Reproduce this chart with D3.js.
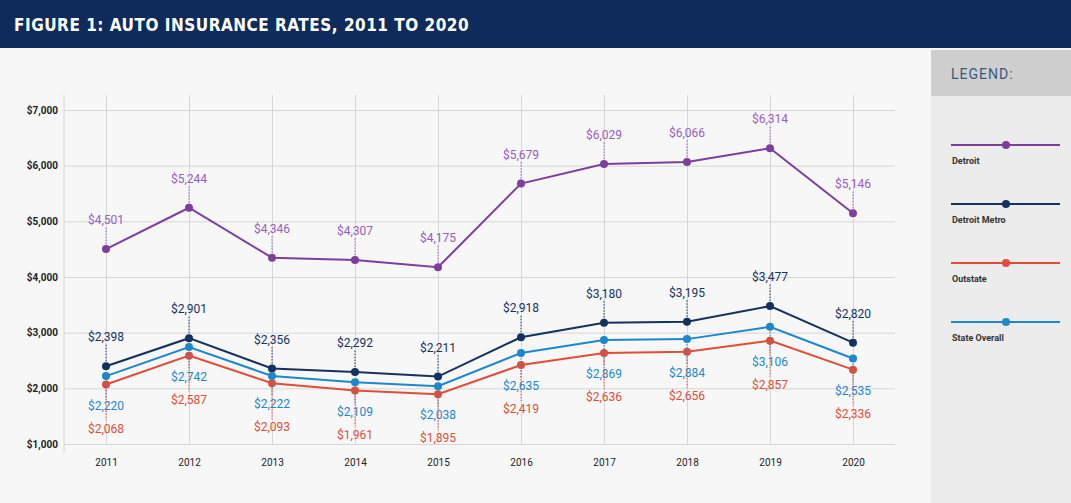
<!DOCTYPE html>
<html><head><meta charset="utf-8">
<script src="https://cdn.jsdelivr.net/npm/d3@7/dist/d3.min.js"></script>
<style>
body{margin:0;background:#f7f7f7;font-family:"DejaVu Sans Condensed","Roboto",sans-serif;}
svg text{font-family:"Roboto","DejaVu Sans",sans-serif;}
</style></head>
<body><svg width="1071" height="503"></svg>
<script>
var years = [2011,2012,2013,2014,2015,2016,2017,2018,2019,2020];
var detroit = [4501,5244,4346,4307,4175,5679,6029,6066,6314,5146];
var metro = [2398,2901,2356,2292,2211,2918,3180,3195,3477,2820];
var outstate = [2068,2587,2093,1961,1895,2419,2636,2656,2857,2336];
var stateOverall = [2220,2742,2222,2109,2038,2635,2869,2884,3106,2535];
var yTicks = [1000,2000,3000,4000,5000,6000,7000];
var seriesNames = ["Detroit","Detroit Metro","Outstate","State Overall"];
var colors = ["#7d3f9e","#15325f","#e04e39","#1e87cc"];
var labelColors = ["#9a5cbf","#15325f","#e04e39","#1e87cc"];

var svg = d3.select("svg");
svg.append("rect").attr("width",1071).attr("height",503).attr("fill","#f7f7f7");
svg.append("rect").attr("width",1071).attr("height",48).attr("fill","#0f2b5b");
svg.append("text").attr("x",14).attr("y",31).attr("fill","#fff")
   .style("font-size","17px").style("font-weight","bold").style("letter-spacing","0.5px")
   .style("font-family","'DejaVu Sans Condensed',sans-serif")
   .text("FIGURE 1: AUTO INSURANCE RATES, 2011 TO 2020");

// legend panel
svg.append("rect").attr("x",931).attr("y",50).attr("width",140).attr("height",453).attr("fill","#ececec");
svg.append("rect").attr("x",931).attr("y",50).attr("width",140).attr("height",46).attr("fill","#cfcfcf");
svg.append("text").attr("x",951).attr("y",79).attr("fill","#3a5a7a").style("font-size","14px")
   .style("letter-spacing","1px").text("LEGEND:");

var x = d3.scalePoint().domain(years).range([106,853]);
var y = d3.scaleLinear().domain([1000,7000]).range([444,110]);

var g = svg.append("g");
// grid
g.append("g").attr("transform","translate(0,444)")
  .call(d3.axisBottom(x).tickSize(-349).tickFormat(""))
  .call(s=>{s.select(".domain").remove();s.selectAll("line").attr("stroke","#d6d6d6");});
g.selectAll(".vl").data([64]).enter().append("line").attr("x1",d=>d).attr("x2",d=>d)
  .attr("y1",95).attr("y2",452).attr("stroke","#d6d6d6");
g.append("g").attr("transform","translate(64,0)")
  .call(d3.axisLeft(y).tickValues(yTicks).tickSize(-831).tickFormat(d=>"$"+d3.format(",")(d)))
  .call(s=>{s.select(".domain").remove();s.selectAll("line").attr("stroke","#d6d6d6");
    s.selectAll("text").attr("x",-6).attr("fill","#222").style("font-size","10px").style("font-weight","bold");});
g.append("g").attr("transform","translate(0,444)")
  .call(d3.axisBottom(x).tickSize(0).tickPadding(15))
  .call(s=>{s.select(".domain").remove();s.selectAll("text").attr("fill","#222").style("font-size","10px");});

var all = [detroit,metro,outstate,stateOverall];
var line = d3.line().x((d,i)=>x(years[i])).y(d=>y(d));
all.forEach((vals,k)=>{
  g.append("path").datum(vals).attr("d",line).attr("fill","none").attr("stroke",colors[k]).attr("stroke-width",2);
  g.selectAll(".p"+k).data(vals).enter().append("circle").attr("cx",(d,i)=>x(years[i])).attr("cy",d=>y(d))
   .attr("r",4).attr("fill",colors[k]);
});

// labels
var fmt = d=>"$"+d3.format(",")(d);
function label(vals,k,pos){
  vals.forEach((v,i)=>{
    var px = x(years[i]), py = y(v);
    var ly = pos(i);
    var above = ly < py;
    g.append("line").attr("x1",px).attr("x2",px).attr("y1",above?py-5:py+5)
      .attr("y2",above?ly+3:ly-12).attr("stroke",labelColors[k]).attr("stroke-dasharray","1.5,1.5");
    g.append("text").attr("x",px).attr("y",ly).attr("text-anchor","middle").attr("fill",labelColors[k])
      .style("font-size","12px").text(fmt(v));
  });
}
label(detroit,0,i=>y(detroit[i])-25);
label(metro,1,i=>y(metro[i])-25);
label(stateOverall,3,i=>y(outstate[i])+25);
label(outstate,2,i=>y(outstate[i])+48);

// legend items
seriesNames.forEach((n,k)=>{
  var ly = 145 + k*59;
  svg.append("line").attr("x1",951).attr("x2",1060).attr("y1",ly).attr("y2",ly).attr("stroke",colors[k]).attr("stroke-width",2);
  svg.append("circle").attr("cx",1006).attr("cy",ly).attr("r",4).attr("fill",colors[k]);
  svg.append("text").attr("x",952).attr("y",ly+19).attr("fill","#333").style("font-size","9px")
    .style("font-weight","bold").text(n);
});
</script></body></html>
